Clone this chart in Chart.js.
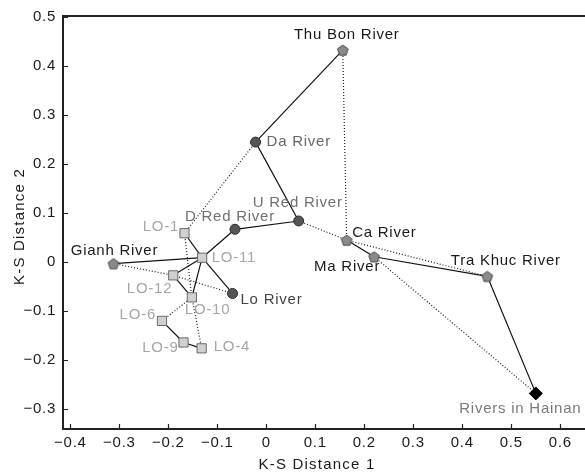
<!DOCTYPE html>
<html>
<head>
<meta charset="utf-8">
<script src="https://cdn.jsdelivr.net/npm/chart.js@4.4.1/dist/chart.umd.min.js"></script>
<style>
  html, body { margin: 0; padding: 0; background: #ffffff; }
  canvas { display: block; }
</style>
</head>
<body>
<canvas id="chart" width="585" height="474"></canvas>
<script>
// ---------- data ----------
const sites = ['Thu Bon River','Da River','U Red River','D Red River','Lo River','Gianh River',
  'Ca River','Ma River','Tra Khuc River','Rivers in Hainan',
  'LO-1','LO-11','LO-12','LO-10','LO-6','LO-9','LO-4'];
const ksDistance1 = [0.156, -0.022, 0.066, -0.064, -0.069, -0.312,
  0.164, 0.220, 0.451, 0.550,
  -0.167, -0.131, -0.190, -0.152, -0.213, -0.169, -0.132];
const ksDistance2 = [0.432, 0.244, 0.083, 0.066, -0.065, -0.004,
  0.044, 0.010, -0.030, -0.269,
  0.058, 0.008, -0.028, -0.073, -0.121, -0.165, -0.177];
const siteGroup = ['coastal','red','red','red','red','coastal',
  'coastal','coastal','coastal','hainan',
  'lo','lo','lo','lo','lo','lo','lo'];
const solidLinks = [
  ['Thu Bon River','Da River'], ['Da River','U Red River'], ['U Red River','D Red River'],
  ['D Red River','LO-11'], ['Gianh River','LO-11'], ['LO-1','LO-11'], ['LO-11','LO-12'],
  ['LO-11','LO-10'], ['LO-11','Lo River'], ['LO-12','LO-10'], ['LO-6','LO-9'], ['LO-9','LO-4'],
  ['Ca River','Ma River'], ['Ma River','Tra Khuc River'], ['Tra Khuc River','Rivers in Hainan']
];
const dottedLinks = [
  ['Da River','LO-1'], ['Thu Bon River','Ca River'], ['U Red River','Ca River'],
  ['Ca River','Tra Khuc River'], ['Ma River','Rivers in Hainan'], ['Gianh River','LO-12'],
  ['LO-12','Lo River'], ['LO-1','LO-10'], ['LO-10','LO-6'], ['LO-10','LO-4']
];
const xTickValues = [-0.4,-0.3,-0.2,-0.1,0,0.1,0.2,0.3,0.4,0.5,0.6];
const yTickValues = [-0.3,-0.2,-0.1,0,0.1,0.2,0.3,0.4,0.5];
const xTitle = 'K-S Distance 1';
const yTitle = 'K-S Distance 2';

// ---------- styles ----------
const FONT = '"Liberation Sans", Arial, Helvetica, sans-serif';
const labelStyle = {
  'Thu Bon River':   {color:'#1a1a1a', align:'center', dx: 4,   dy:-15},
  'Da River':        {color:'#666666', align:'left',   dx: 11,  dy: 0},
  'U Red River':     {color:'#707070', align:'center', dx: -1,  dy:-18},
  'D Red River':     {color:'#707070', align:'center', dx: -5,  dy:-12.5},
  'Lo River':        {color:'#444444', align:'left',   dx: 8,   dy: 6},
  'Gianh River':     {color:'#1a1a1a', align:'center', dx: 1,   dy:-12.5},
  'Ca River':        {color:'#1a1a1a', align:'left',   dx: 5.5, dy:-7.5},
  'Ma River':        {color:'#1a1a1a', align:'right',  dx: 6,   dy: 10.5},
  'Tra Khuc River':  {color:'#1a1a1a', align:'center', dx: 18.5,dy:-15.5},
  'Rivers in Hainan':{color:'#7a7a7a', align:'center', dx:-15.5,dy: 15},
  'LO-1':  {color:'#a6a6a6', align:'right', dx:-5.5, dy:-6.5},
  'LO-11': {color:'#a6a6a6', align:'left',  dx: 9.5, dy: 0},
  'LO-12': {color:'#a6a6a6', align:'right', dx:-1,   dy: 13.5},
  'LO-10': {color:'#a6a6a6', align:'left',  dx:-7,   dy: 12.5},
  'LO-6':  {color:'#a6a6a6', align:'right', dx:-6,   dy:-6.5},
  'LO-9':  {color:'#a6a6a6', align:'right', dx:-5,   dy: 5},
  'LO-4':  {color:'#a6a6a6', align:'left',  dx: 12,  dy:-1.5}
};

function makePentagon(R, fill, stroke) {
  const c = document.createElement('canvas');
  const s = 14;
  c.width = s; c.height = s;
  const g = c.getContext('2d');
  g.beginPath();
  for (let i = 0; i < 5; i++) {
    const a = -Math.PI / 2 + i * 2 * Math.PI / 5;
    const px = s / 2 + R * Math.cos(a), py = s / 2 + 0.6 + R * Math.sin(a);
    if (i === 0) g.moveTo(px, py); else g.lineTo(px, py);
  }
  g.closePath();
  g.fillStyle = fill; g.fill();
  g.lineWidth = 1; g.strokeStyle = stroke; g.stroke();
  return c;
}
const pentagon = makePentagon(5.6, '#8a8a8a', '#4a4a4a');

const groupStyle = {
  coastal: {pointStyle: pentagon, radius: 6, bg:'#8a8a8a', border:'#4a4a4a'},
  red:     {pointStyle: 'circle', radius: 5, bg:'#555555', border:'#2e2e2e'},
  lo:      {pointStyle: 'rect',   radius: 6.5, bg:'#d0d0d0', border:'#6a6a6a'},
  hainan:  {pointStyle: 'rectRot',radius: 6.5, bg:'#000000', border:'#000000'}
};

// ---------- build datasets ----------
const idx = name => sites.indexOf(name);
const pt = name => ({x: ksDistance1[idx(name)], y: ksDistance2[idx(name)]});
const datasets = [];
solidLinks.forEach(([a,b]) => datasets.push({
  data:[pt(a), pt(b)], showLine:true, borderColor:'#111111', borderWidth:1.2,
  pointRadius:0, pointHoverRadius:0, order:3
}));
dottedLinks.forEach(([a,b]) => datasets.push({
  data:[pt(a), pt(b)], showLine:true, borderColor:'#1e1e1e', borderWidth:1.2,
  borderDash:[1,2], pointRadius:0, pointHoverRadius:0, order:2
}));
Object.keys(groupStyle).forEach(g => {
  const st = groupStyle[g];
  const data = sites.map((s,i) => ({x: ksDistance1[i], y: ksDistance2[i], g: siteGroup[i]}))
                    .filter(d => d.g === g);
  datasets.push({
    data, showLine:false, pointStyle: st.pointStyle, pointRadius: st.radius,
    pointHoverRadius: st.radius, backgroundColor: st.bg, borderColor: st.border,
    pointBorderWidth: 1, order:1
  });
});

// ---------- plugins ----------
const spacingPlugin = {
  id:'spacing',
  beforeUpdate(chart){ chart.ctx.letterSpacing = '0.75px'; },
  beforeDraw(chart){ chart.ctx.letterSpacing = '0.75px'; }
};
const framePlugin = {
  id:'frame',
  afterDraw(chart){
    const {ctx, chartArea:ca, scales} = chart;
    ctx.save();
    ctx.strokeStyle = '#222222';
    ctx.lineWidth = 2;
    ctx.beginPath();
    ctx.moveTo(ca.left - 1, ca.top); ctx.lineTo(ca.right, ca.top);
    ctx.stroke();
    ctx.lineWidth = 1.2;
    ctx.beginPath();
    xTickValues.forEach(v => {
      const px = Math.round(scales.x.getPixelForValue(v)) + 0.5;
      ctx.moveTo(px, ca.bottom); ctx.lineTo(px, ca.bottom - 5);
    });
    yTickValues.forEach(v => {
      const py = Math.round(scales.y.getPixelForValue(v)) + 0.5;
      ctx.moveTo(ca.left, py); ctx.lineTo(ca.left + 5, py);
    });
    ctx.stroke();
    // axis titles
    ctx.fillStyle = '#1a1a1a';
    ctx.font = '15px ' + FONT;
    ctx.letterSpacing = '1.2px';
    ctx.textAlign = 'center';
    ctx.textBaseline = 'middle';
    ctx.fillText(xTitle, 317, 465);
    ctx.translate(19.5, 226.5);
    ctx.rotate(-Math.PI/2);
    ctx.fillText(yTitle, 0, 0);
    ctx.restore();
  }
};
const labelPlugin = {
  id:'siteLabels',
  afterDatasetsDraw(chart){
    const {ctx, scales} = chart;
    ctx.save();
    ctx.font = '15px ' + FONT;
    ctx.letterSpacing = '0.75px';
    ctx.textBaseline = 'middle';
    sites.forEach((s,i) => {
      const st = labelStyle[s];
      const px = scales.x.getPixelForValue(ksDistance1[i]);
      const py = scales.y.getPixelForValue(ksDistance2[i]);
      ctx.fillStyle = st.color;
      ctx.textAlign = st.align;
      ctx.fillText(s, px + st.dx, py + st.dy);
    });
    ctx.restore();
  }
};

const fmt = v => v === 0 ? '0' : (v < 0 ? '\u2212' : '') + Math.abs(v).toFixed(1);

Chart.defaults.font.family = FONT;
Chart.defaults.font.size = 15;
Chart.defaults.color = '#1a1a1a';

new Chart(document.getElementById('chart'), {
  type: 'scatter',
  data: { datasets },
  options: {
    responsive:false,
    animation:false,
    events:[],
    layout:{ autoPadding:false, padding:{top:16, right:0, bottom:0, left:0} },
    plugins:{ legend:{display:false}, tooltip:{enabled:false} },
    scales:{
      x:{
        type:'linear', min:-0.415, max:0.6504,
        afterBuildTicks: s => { s.ticks = xTickValues.map(v => ({value:v})); },
        afterFit: s => { s.height = 45; s.paddingLeft = 0; s.paddingRight = 0; },
        grid:{ display:true, drawOnChartArea:false, drawTicks:false, color:'rgba(0,0,0,0)' },
        border:{ display:true, color:'#222222', width:2 },
        ticks:{ callback: fmt, padding:5, maxRotation:0, autoSkip:false, color:'#1a1a1a' }
      },
      y:{
        type:'linear', min:-0.3417, max:0.5015,
        afterBuildTicks: s => { s.ticks = yTickValues.map(v => ({value:v})); },
        afterFit: s => { s.width = 63; s.paddingTop = 0; s.paddingBottom = 0; },
        grid:{ display:true, drawOnChartArea:false, drawTicks:false, color:'rgba(0,0,0,0)' },
        border:{ display:true, color:'#222222', width:2 },
        ticks:{ callback: fmt, padding:7, autoSkip:false, color:'#1a1a1a' }
      }
    }
  },
  plugins:[spacingPlugin, labelPlugin, framePlugin]
});
</script>
</body>
</html>
